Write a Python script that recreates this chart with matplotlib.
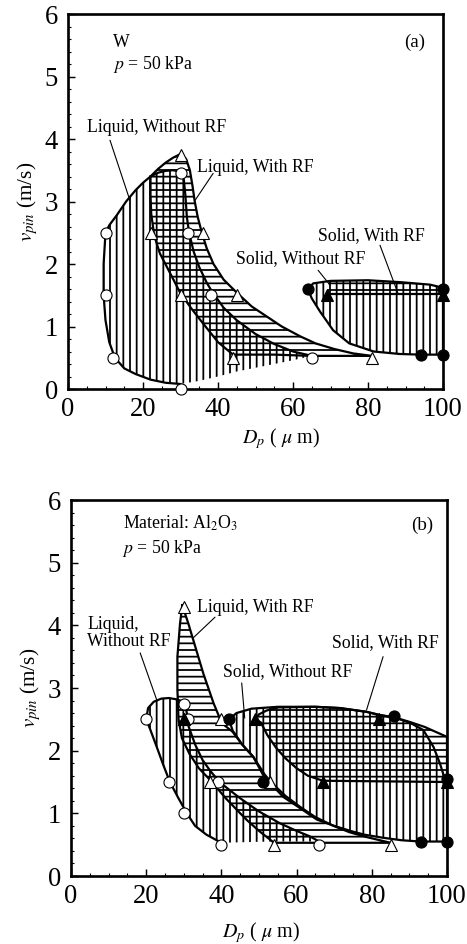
import matplotlib
matplotlib.use('Agg')
import matplotlib.pyplot as plt
from matplotlib.patches import Polygon
from matplotlib.ticker import MultipleLocator

plt.rcParams['font.family'] = ['Liberation Serif', 'DejaVu Serif']
plt.rcParams['mathtext.fontset'] = 'stix'
plt.rcParams['hatch.linewidth'] = 1.6

# ---------------- (a) W, p = 50 kPa ----------------
# liquid, without RF (outline drawn for the first n points, rest is hatch edge only)
a_lwo_x = [30, 26, 22, 18, 15, 12.5, 11, 10, 9.5, 9.5, 10, 11, 13, 15.5, 18, 20, 22, 24, 26, 28, 30,
           30.8, 31.3, 31.7, 32.3, 33.5, 35, 37, 38.5, 41.5, 45, 50, 55, 60, 65,
           60, 55, 50, 45, 40, 35]
a_lwo_y = [0.08, 0.1, 0.15, 0.24, 0.33, 0.5, 0.75, 1.1, 1.5, 2.0, 2.5, 2.62, 2.78, 3.0, 3.18, 3.3, 3.4, 3.46, 3.49, 3.5, 3.48,
           3.4, 3.1, 2.75, 2.5, 2.2, 1.95, 1.7, 1.55, 1.3, 1.1, 0.88, 0.72, 0.6, 0.53,
           0.46, 0.4, 0.34, 0.28, 0.2, 0.13]
a_lwo_edge = 35

# liquid, with RF
a_lwr_x = [22, 24, 26, 28, 30, 31.5, 32.5, 33.2, 33.8, 34.6, 35.7, 37, 38.8, 41.5, 45.2, 49, 53, 57, 62, 66, 71, 76, 81,
           65, 55, 44, 40, 36, 33, 30, 27, 24.5, 23, 22.2, 22]
a_lwr_y = [3.4, 3.52, 3.62, 3.7, 3.76, 3.68, 3.5, 3.25, 3.0, 2.75, 2.5, 2.25, 2.0, 1.75, 1.53, 1.32, 1.16, 1.0, 0.84, 0.73, 0.64, 0.57, 0.53,
           0.53, 0.55, 0.55, 0.75, 1.05, 1.28, 1.53, 1.88, 2.17, 2.45, 2.8, 3.1]

# solid, without RF
a_swo_x = [64, 65.4, 70, 80, 88.5, 96.5, 100, 100, 94, 88.5, 81.5, 75, 70.7, 67.2, 65]
a_swo_y = [1.6, 1.69, 1.73, 1.74, 1.71, 1.67, 1.62, 0.55, 0.55, 0.56, 0.6, 0.73, 0.94, 1.24, 1.45]

# solid, with RF (only the lower line is outlined)
a_swr_x = [100, 69, 69.5, 80, 88.5, 96.5, 100]
a_swr_y = [1.52, 1.52, 1.73, 1.74, 1.71, 1.67, 1.62]
a_swr_edge = 2

# measured points
a_lwo_pts_x = [10, 10, 12, 30, 30, 32, 38, 65]
a_lwo_pts_y = [2.5, 1.5, 0.5, 0.0, 3.45, 2.5, 1.5, 0.5]
a_lwr_pts_x = [30, 22, 36, 30, 45, 44, 81]
a_lwr_pts_y = [3.75, 2.5, 2.5, 1.5, 1.5, 0.5, 0.5]
a_swo_pts_x = [64, 100, 94, 100]
a_swo_pts_y = [1.6, 1.6, 0.55, 0.55]
a_swr_pts_x = [69, 100]
a_swr_pts_y = [1.5, 1.5]

# ---------------- (b) Al2O3, p = 50 kPa ----------------
b_lwo_x = [40, 36, 33, 30.8, 28.5, 26.3, 24.5, 22.8, 21, 20, 20.5, 22, 24, 26, 28, 29.5, 30.3,
           30.8, 31.2, 33, 35, 37, 39.5, 42, 45, 50, 55.6, 60, 63.6, 66,
           53]
b_lwo_y = [0.53, 0.66, 0.8, 1.0, 1.25, 1.5, 1.78, 2.06, 2.35, 2.5, 2.68, 2.78, 2.83, 2.84, 2.82, 2.79, 2.75,
           2.6, 2.4, 2.1, 1.85, 1.68, 1.5, 1.38, 1.24, 1.03, 0.84, 0.72, 0.63, 0.55,
           0.55]
b_lwo_edge = 30

b_lwr_x = [29.6, 31.2, 32.5, 35.2, 37.9, 40.1, 43, 45.5, 48.5, 51.5, 53.5, 57, 61, 65, 69.8, 74, 78.7, 85,
           54, 50, 47, 45, 41, 37.5, 34, 31.5, 29.5, 28.6, 28.3, 28.3, 29]
b_lwr_y = [4.32, 4.03, 3.77, 3.23, 2.76, 2.44, 2.3, 2.1, 1.9, 1.62, 1.48, 1.28, 1.1, 0.94, 0.8, 0.7, 0.62, 0.53,
           0.53, 0.72, 0.88, 1.0, 1.25, 1.5, 1.72, 1.95, 2.2, 2.5, 2.97, 3.5, 4.03]

b_swo_x = [42, 44, 48, 55, 65, 71.5, 78.6, 82, 86, 90, 93.7, 96.4, 98.1, 99.2, 100, 100,
           93, 88, 83, 78, 74.3, 70, 65.4, 61, 56.5, 53, 51.2, 48.5, 45.5, 43]
b_swo_y = [2.5, 2.6, 2.67, 2.7, 2.7, 2.68, 2.62, 2.57, 2.53, 2.45, 2.33, 2.06, 1.8, 1.59, 1.55, 0.55,
           0.55, 0.57, 0.61, 0.66, 0.72, 0.8, 0.9, 1.08, 1.26, 1.48, 1.6, 1.9, 2.1, 2.32]

b_swr_x = [49, 50, 52, 55, 65, 71.5, 78.6, 82, 86, 90, 94, 97, 100, 100,
           67, 63, 60, 57, 54.5, 52.2, 50.5]
b_swr_y = [2.5, 2.58, 2.64, 2.69, 2.7, 2.68, 2.62, 2.57, 2.53, 2.46, 2.38, 2.3, 2.22, 1.5,
           1.52, 1.6, 1.72, 1.88, 2.05, 2.25, 2.45]

b_lwo_pts_x = [20, 26, 30, 40, 30, 31, 39, 66]
b_lwo_pts_y = [2.5, 1.5, 1.0, 0.5, 2.75, 2.5, 1.5, 0.5]
b_lwr_pts_x = [30, 30, 37, 53, 54, 85, 40]
b_lwr_pts_y = [4.3, 2.5, 1.5, 1.5, 0.5, 0.5, 2.5]
b_swo_pts_x = [42, 51, 86, 100, 93, 100]
b_swo_pts_y = [2.5, 1.5, 2.55, 1.55, 0.55, 0.55]
b_swr_pts_x = [30, 49, 67, 82, 100]
b_swr_pts_y = [2.5, 2.5, 1.5, 2.5, 1.5]

x_ticks = [0, 20, 40, 60, 80, 100]
y_ticks = [0, 1, 2, 3, 4, 5, 6]

DPI = 80
fig = plt.figure(figsize=(467 / DPI, 944 / DPI), dpi=DPI)
ax_a = fig.add_axes([68 / 467, 1 - 389 / 944, 375 / 467, 375 / 944])
ax_b = fig.add_axes([71 / 467, 1 - 876 / 944, 376 / 467, 376 / 944])


def region(ax, xs, ys, hatch, n_edge=None):
    ax.add_patch(Polygon(list(zip(xs, ys)), closed=True, fill=False, hatch=hatch,
                         lw=0, edgecolor='black', zorder=1))
    if n_edge is None:
        ax.plot(list(xs) + [xs[0]], list(ys) + [ys[0]], color='black', lw=2.0, zorder=2)
    else:
        ax.plot(xs[:n_edge], ys[:n_edge], color='black', lw=2.0, zorder=2)


def points(ax, xs, ys, marker, filled):
    ax.plot(xs, ys, linestyle='none', marker=marker, ms=10 if marker == 'o' else 10.5,
            mfc='black' if filled else 'white', mec='black', mew=1.0, zorder=4, clip_on=False)


def leader(ax, start, end):
    ax.annotate('', xy=end, xytext=start,
                arrowprops=dict(arrowstyle='-', lw=1.0, color='black', shrinkA=0, shrinkB=0))


def style(ax, xlab_x, xlab_y):
    ax.set_xlim(0, 100)
    ax.set_ylim(0, 6)
    ax.set_xticks(x_ticks)
    ax.set_yticks(y_ticks)
    ax.xaxis.set_minor_locator(MultipleLocator(5))
    ax.yaxis.set_minor_locator(MultipleLocator(0.2))
    ax.tick_params(which='both', direction='in', top=False, right=False, color='black')
    ax.tick_params(which='major', length=6, width=1.3, labelsize=24)
    ax.tick_params(which='minor', length=3, width=1.0)
    ax.tick_params(axis='x', pad=7)
    ax.tick_params(axis='y', pad=9)
    for s in ax.spines.values():
        s.set_linewidth(2.4)
    ax.set_xlabel(r'$D_p$ ( $\mu$ m)', fontsize=18)
    ax.set_ylabel(r'$v_{pin}$ (m/s)', fontsize=19)
    ax.xaxis.set_label_coords(xlab_x, xlab_y)
    ax.yaxis.set_label_coords(-0.075, 0.5)


# ----- panel (a) -----
region(ax_a, a_lwo_x, a_lwo_y, '||', a_lwo_edge)
region(ax_a, a_lwr_x, a_lwr_y, '--')
region(ax_a, a_swo_x, a_swo_y, '||')
region(ax_a, a_swr_x, a_swr_y, '--', a_swr_edge)
points(ax_a, a_lwo_pts_x, a_lwo_pts_y, 'o', False)
points(ax_a, a_lwr_pts_x, a_lwr_pts_y, '^', False)
points(ax_a, a_swo_pts_x, a_swo_pts_y, 'o', True)
points(ax_a, a_swr_pts_x, a_swr_pts_y, '^', True)

ax_a.text(12, 5.55, 'W', fontsize=16, va='center')
ax_a.text(12, 5.2, r'$p$ = 50 kPa', fontsize=16, va='center')
ax_a.text(92.5, 5.55, '(a)', fontsize=17, ha='center', va='center')
ax_a.text(5.1, 4.19, 'Liquid, Without RF', fontsize=16, va='center')
ax_a.text(34.4, 3.55, 'Liquid, With RF', fontsize=16, va='center')
ax_a.text(66.7, 2.46, 'Solid, With RF', fontsize=16, va='center')
ax_a.text(44.8, 2.08, 'Solid, Without RF', fontsize=16, va='center')
leader(ax_a, (11.2, 3.98), (16.5, 3.02))
leader(ax_a, (38.7, 3.45), (33.9, 3.02))
leader(ax_a, (83.2, 2.3), (88, 1.53))
leader(ax_a, (66.7, 1.9), (69.9, 1.66))
style(ax_a, 0.568, -0.1)

# ----- panel (b) -----
region(ax_b, b_lwo_x, b_lwo_y, '||', b_lwo_edge)
region(ax_b, b_lwr_x, b_lwr_y, '--')
region(ax_b, b_swo_x, b_swo_y, '||')
region(ax_b, b_swr_x, b_swr_y, '--')
points(ax_b, b_lwo_pts_x, b_lwo_pts_y, 'o', False)
points(ax_b, b_lwr_pts_x, b_lwr_pts_y, '^', False)
points(ax_b, b_swo_pts_x, b_swo_pts_y, 'o', True)
points(ax_b, b_swr_pts_x, b_swr_pts_y, '^', True)

ax_b.text(13.8, 5.63, r'Material: Al$_2$O$_3$', fontsize=16, va='center')
ax_b.text(13.5, 5.23, r'$p$ = 50 kPa', fontsize=16, va='center')
ax_b.text(93.3, 5.6, '(b)', fontsize=17, ha='center', va='center')
ax_b.text(33.5, 4.28, 'Liquid, With RF', fontsize=16, va='center')
ax_b.text(4.3, 3.88, 'Liquid,\nWithout RF', fontsize=16, va='center', linespacing=1.05)
ax_b.text(69.4, 3.72, 'Solid, With RF', fontsize=16, va='center')
ax_b.text(40.4, 3.26, 'Solid, Without RF', fontsize=16, va='center')
leader(ax_b, (38.3, 4.13), (32.5, 3.8))
leader(ax_b, (18.4, 3.56), (22.8, 2.81))
leader(ax_b, (83, 3.5), (78.6, 2.65))
leader(ax_b, (45.4, 3.08), (46.2, 2.52))
style(ax_b, 0.505, -0.118)

fig.savefig('out.png', dpi=DPI)
